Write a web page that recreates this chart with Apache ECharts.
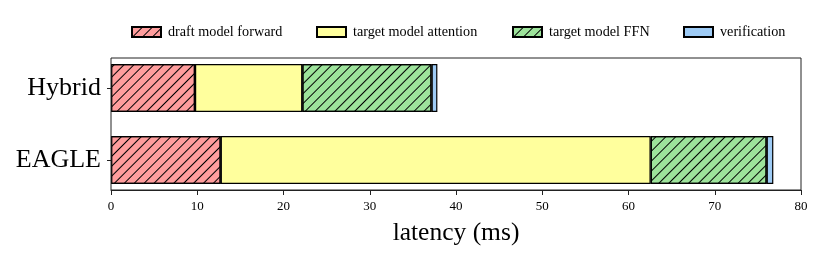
<!DOCTYPE html>
<html><head><meta charset="utf-8">
<script src="https://cdn.jsdelivr.net/npm/echarts@6/dist/echarts.min.js"></script>
<style>html,body{margin:0;padding:0;background:#fff}#c{width:830px;height:260px}</style>
</head><body><div id="c"></div>
<script>
var categories = ['Hybrid', 'EAGLE'];
var seriesNames = ['draft model forward', 'target model attention', 'target model FFN', 'verification'];
var draftForward = [9.74, 12.72];
var targetAttention = [12.44, 49.85];
var targetFFN = [14.99, 13.45];
var verification = [0.67, 0.77];
var xTicks = [0, 10, 20, 30, 40, 50, 60, 70, 80];

var FONT = 'Liberation Serif';
var colors = ['#ff9d9d', '#ffff9d', '#9de39b', '#9ecbf5'];
var hatch = {
  symbol: 'rect', color: '#000', dashArrayX: [1, 0], dashArrayY: [1, 5.5],
  rotation: -Math.PI / 4, symbolSize: 1
};
var valuesList = [draftForward, targetAttention, targetFFN, verification];
var hatched = [true, false, true, false];

var chart = echarts.init(document.getElementById('c'), null, {renderer: 'canvas'});
var series = seriesNames.map(function (n, i) {
  var it = {color: colors[i], borderColor: '#000', borderWidth: 1.2};
  if (hatched[i]) it.decal = hatch;
  return {
    name: n, type: 'bar', stack: 'total', xAxisIndex: 0, yAxisIndex: 0,
    barWidth: 48, data: valuesList[i], itemStyle: it, emphasis: {disabled: true}
  };
});
var legendLefts = [126, 311, 507, 678];
var legends = seriesNames.map(function (n, i) {
  return {
    data: [n], left: legendLefts[i], top: 20, itemWidth: 29, itemHeight: 10, icon: 'rect',
    selectedMode: false,
    textStyle: {fontFamily: FONT, fontSize: 14.2, color: '#000', padding: [0, 0, 0, 2]}
  };
});
chart.setOption({
  animation: false,
  aria: {enabled: false},
  legend: legends,
  grid: [
    {left: 111, right: 29, top: 52, height: 144, containLabel: false},
    {left: 111, right: 29, top: 58, height: 132, show: true, borderColor: '#222', borderWidth: 1, backgroundColor: 'transparent', z: 5}
  ],
  xAxis: [
    {gridIndex: 0, type: 'value', min: xTicks[0], max: xTicks[xTicks.length - 1], show: false},
    {gridIndex: 1, type: 'value', min: xTicks[0], max: xTicks[xTicks.length - 1], interval: 10,
     splitLine: {show: false},
     axisLine: {show: true, lineStyle: {color: '#222', width: 1}},
     axisTick: {show: true, inside: false, length: 5, lineStyle: {color: '#222'}},
     axisLabel: {fontFamily: FONT, fontSize: 13, color: '#000', margin: 10},
     name: 'latency (ms)', nameLocation: 'middle', nameGap: 30,
     nameTextStyle: {fontFamily: FONT, fontSize: 25.5, color: '#000', verticalAlign: 'top'}}
  ],
  yAxis: [
    {gridIndex: 0, type: 'category', data: categories, inverse: true,
     axisLine: {show: false},
     axisTick: {show: true, alignWithLabel: true, length: 4, lineStyle: {color: '#222'}},
     axisLabel: {fontFamily: FONT, fontSize: 26, color: '#000', margin: 10},
     splitLine: {show: false}},
    {gridIndex: 1, type: 'value', show: false, min: 0, max: 1}
  ],
  series: series
});
</script></body></html>
